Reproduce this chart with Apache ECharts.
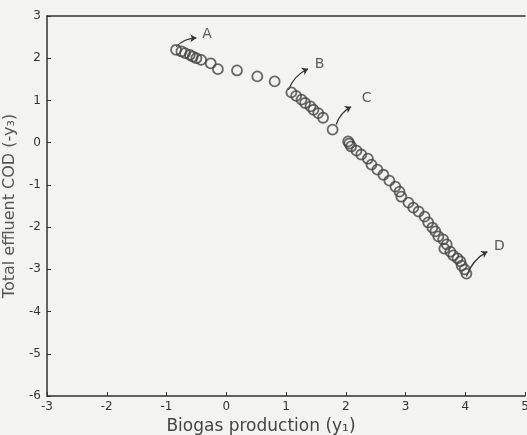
<!DOCTYPE html>
<html><head><meta charset="utf-8">
<script src="https://cdn.jsdelivr.net/npm/echarts@6/dist/echarts.min.js"></script>
<style>html,body{margin:0;padding:0;background:#f3f3f1;}#c{width:527px;height:435px;}</style>
</head><body><div id="c"></div>
<script>
// Biogas production (y1) values
const biogas = [-0.84,-0.75,-0.69,-0.61,-0.56,-0.50,-0.42,-0.26,-0.14,0.18,0.52,0.81,
  1.09,1.17,1.26,1.32,1.41,1.46,1.54,1.62,1.78,
  2.04,2.06,2.09,2.18,2.26,2.37,2.43,2.53,2.63,2.73,2.83,2.90,2.93,3.05,3.13,3.22,3.32,3.38,3.45,3.50,3.55,3.63,3.69,3.65,3.75,3.80,3.87,3.92,3.94,3.99,4.02];
// Total effluent COD (-y3) values
const cod = [2.20,2.16,2.12,2.08,2.04,2.00,1.96,1.88,1.74,1.71,1.57,1.45,
  1.19,1.11,1.02,0.94,0.86,0.78,0.70,0.59,0.31,
  0.03,-0.02,-0.09,-0.19,-0.28,-0.38,-0.52,-0.64,-0.76,-0.90,-1.04,-1.16,-1.28,-1.42,-1.54,-1.63,-1.75,-1.89,-2.01,-2.10,-2.22,-2.29,-2.41,-2.51,-2.58,-2.67,-2.74,-2.81,-2.91,-3.00,-3.10];
// annotation labels, arrow start/end and label positions (data units)
const annoLabels = ['A','B','C','D'];
const arrowStart = [[-0.84,2.27],[1.04,1.25],[1.84,0.43],[4.02,-3.17]];
const arrowEnd = [[-0.50,2.48],[1.37,1.75],[2.09,0.85],[4.37,-2.58]];
const labelPos = [[-0.32,2.57],[1.56,1.86],[2.35,1.04],[4.57,-2.46]];
const xTicks = [-3,-2,-1,0,1,2,3,4,5];
const yTicks = [-6,-5,-4,-3,-2,-1,0,1,2,3];

const chart = echarts.init(document.getElementById('c'));
const ink = '#333';
const font = 'DejaVu Sans';
const pts = biogas.map((x,i)=>[x,cod[i]]);
chart.setOption({
  animation:false,
  backgroundColor:'#f3f3f1',
  grid:{left:47,right:2,top:16,bottom:39,show:false,containLabel:false,outerBoundsMode:'none'},
  xAxis:[{
    type:'value',min:xTicks[0],max:xTicks[xTicks.length-1],interval:1,
    axisLine:{show:true,onZero:false,lineStyle:{color:ink,width:1.5}},
    axisTick:{show:true,inside:true,length:4,lineStyle:{color:ink}},
    splitLine:{show:false},
    axisLabel:{color:ink,fontFamily:font,fontSize:12,margin:5,showMaxLabel:true,showMinLabel:true},
    name:'Biogas production (y\u2081)',nameLocation:'middle',nameGap:19,
    nameTextStyle:{color:'#444',fontFamily:font,fontSize:17,padding:[0,50,0,0]}
  },{
    type:'value',position:'top',min:xTicks[0],max:xTicks[xTicks.length-1],interval:1,
    axisLine:{show:true,onZero:false,lineStyle:{color:ink,width:1.5}},
    axisTick:{show:false},axisLabel:{show:false},splitLine:{show:false}
  }],
  yAxis:{
    type:'value',min:yTicks[0],max:yTicks[yTicks.length-1],interval:1,
    axisLine:{show:true,onZero:false,lineStyle:{color:ink,width:1.5}},
    axisTick:{show:true,inside:true,length:4,lineStyle:{color:ink}},
    splitLine:{show:false},
    axisLabel:{color:ink,fontFamily:font,fontSize:12,margin:6},
    name:'Total effluent COD (-y\u2083)',nameLocation:'middle',nameGap:23,
    nameTextStyle:{color:'#555',fontFamily:font,fontSize:16}
  },
  series:[{
    type:'scatter',data:pts,symbol:'circle',symbolSize:10,
    itemStyle:{color:'rgba(0,0,0,0)',borderColor:'#444',borderWidth:1.8}
  },{
    type:'lines',coordinateSystem:'cartesian2d',
    data:arrowStart.map((s,i)=>({coords:[s,arrowEnd[i]]})),
    symbol:['none','arrow'],symbolSize:6,
    lineStyle:{color:ink,width:1.2,opacity:1,curveness:0.2}
  },{
    type:'scatter',symbolSize:0,
    data:labelPos.map((p,i)=>({value:p,name:annoLabels[i]})),
    label:{show:true,formatter:'{b}',position:'inside',color:ink,fontFamily:font,fontSize:14}
  }]
});
</script></body></html>
